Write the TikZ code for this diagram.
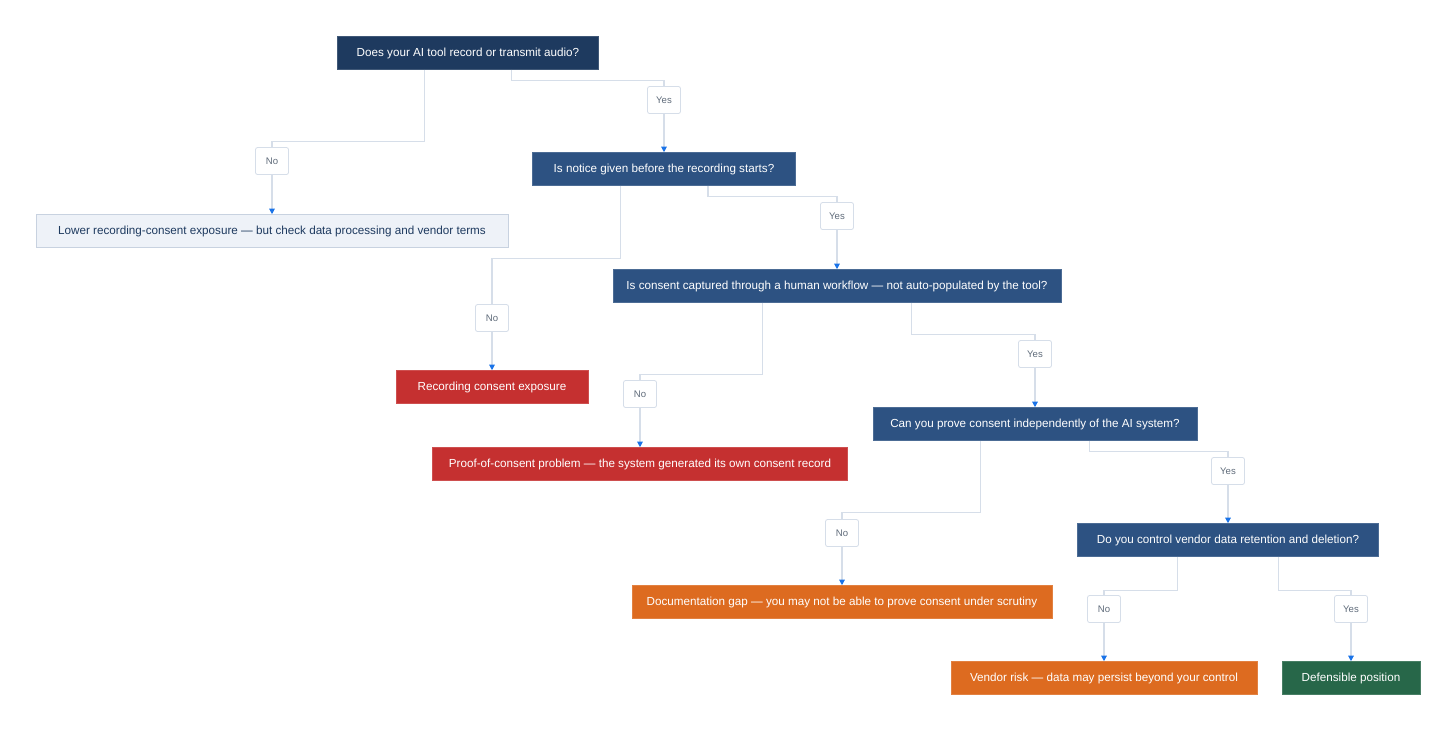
\documentclass[tikz,border=0pt]{standalone}
\usepackage{fontspec}
\setmainfont{Liberation Sans}
\usetikzlibrary{arrows.meta,calc,positioning}
\definecolor{navy}{RGB}{30,58,95}
\definecolor{qblue}{RGB}{45,82,130}
\definecolor{riskred}{RGB}{197,48,48}
\definecolor{warnorange}{RGB}{221,107,32}
\definecolor{okgreen}{RGB}{39,103,73}
\definecolor{palefill}{RGB}{238,242,248}
\definecolor{paleborder}{RGB}{200,210,224}
\definecolor{linegrey}{RGB}{214,222,233}
\definecolor{arrowblue}{RGB}{26,115,232}
\definecolor{lbltext}{RGB}{95,107,122}
\tikzset{
    box/.style ={rectangle, minimum height=0.825cm, inner xsep=0.3cm, inner ysep=0pt,
                 font=\fontsize{8.3}{10}\selectfont, text=white},
    question/.style ={box, fill=qblue, draw=qblue!85!white},
    outcome/.style ={box, fill=#1, draw=#1!85!white},
    lbl/.style = {rectangle, rounded corners=1.5pt, fill=white, draw=linegrey, line width=0.6pt,
                  minimum width=0.825cm, minimum height=0.675cm, inner sep=0pt,
                  font=\fontsize{6.8}{8}\selectfont, text=lbltext},
    link/.style={draw=linegrey, line width=0.8pt, -{Triangle[length=4pt,width=4pt,color=arrowblue]}}
}
\begin{document}
\begin{tikzpicture}[x=0.025cm, y=-0.025cm]
    \useasboundingbox (0,0) rectangle (1456,731);

    %%Questions
    \node[question, fill=navy, draw=navy!85!white, minimum width=6.525cm] (q1) at (468,53) {Does your AI tool record or transmit audio?};
    \node[question, minimum width=6.575cm] (q2) at (664,169) {Is notice given before the recording starts?};
    \node[question, minimum width=11.2cm] (q3) at (837,286) {Is consent captured through a human workflow — not auto-populated by the tool?};
    \node[question, minimum width=8.1cm] (q4) at (1035,424) {Can you prove consent independently of the AI system?};
    \node[question, minimum width=7.525cm] (q5) at (1228,540) {Do you control vendor data retention and deletion?};

    %%Outcomes
    \node[box, fill=palefill, draw=paleborder, text=navy, minimum width=11.8cm] (low) at (272,231) {Lower recording-consent exposure — but check data processing and vendor terms};
    \node[outcome=riskred, minimum width=4.8cm] (rec) at (492,387) {Recording consent exposure};
    \node[outcome=riskred, minimum width=10.375cm] (proof) at (640,464) {Proof-of-consent problem — the system generated its own consent record};
    \node[outcome=warnorange, minimum width=10.5cm] (doc) at (842,602) {Documentation gap — you may not be able to prove consent under scrutiny};
    \node[outcome=warnorange, minimum width=7.65cm] (vendor) at (1104,678) {Vendor risk — data may persist beyond your control};
    \node[outcome=okgreen, minimum width=3.45cm] (defend) at (1351,678) {Defensible position};

    % exits at thirds of each question
    \foreach \q in {q1,q2,q3,q4,q5}{
        \coordinate (\q no) at ($(\q.south west)!1/3!(\q.south east)$);
        \coordinate (\q yes) at ($(\q.south west)!2/3!(\q.south east)$);
    }

    % Directed edges
    \draw[link] (q1no) -- ++(0,72) -| (low.north);
    \draw[link] (q1yes) -- ++(0,11) -| (q2.north);
    \draw[link] (q2no) -- ++(0,73) -| (rec.north);
    \draw[link] (q2yes) -- ++(0,11) -| (q3.north);
    \draw[link] (q3no) -- ++(0,72) -| (proof.north);
    \draw[link] (q3yes) -- ++(0,32) -| (q4.north);
    \draw[link] (q4no) -- ++(0,72) -| (doc.north);
    \draw[link] (q4yes) -- ++(0,11) -| (q5.north);
    \draw[link] (q5no) -- ++(0,34) -| (vendor.north);
    \draw[link] (q5yes) -- ++(0,34) -| (defend.north);

    %%Edge labels
    \node[lbl] (l1no) at (272,161) {No};
    \node[lbl] (l1yes) at (664,100) {Yes};
    \node[lbl] (l2no) at (492,318) {No};
    \node[lbl] (l2yes) at (837,216) {Yes};
    \node[lbl] (l3no) at (640,394) {No};
    \node[lbl] (l3yes) at (1035,354) {Yes};
    \node[lbl] (l4no) at (842,533) {No};
    \node[lbl] (l4yes) at (1228,471) {Yes};
    \node[lbl] (l5no) at (1104,609) {No};
    \node[lbl] (l5yes) at (1351,609) {Yes};
\end{tikzpicture}
\end{document}
